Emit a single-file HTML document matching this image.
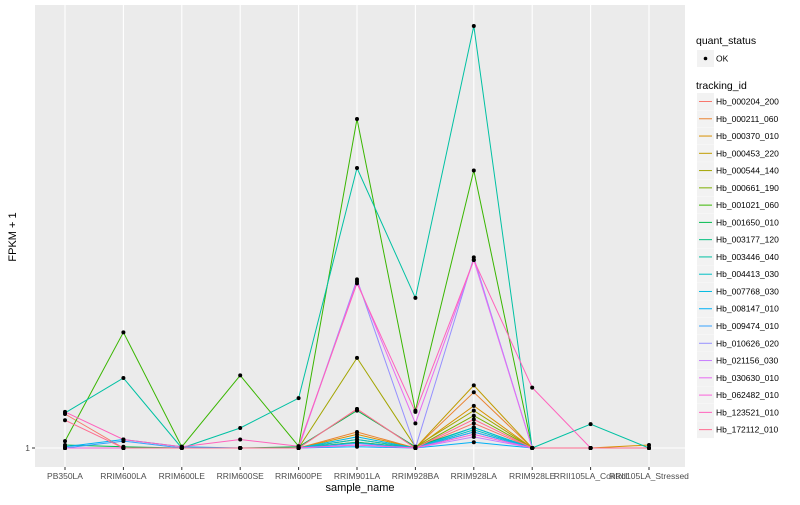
<!DOCTYPE html>
<html><head><meta charset="utf-8"><style>
body{margin:0;background:#fff;font-family:"Liberation Sans",sans-serif}
svg text{font-family:"Liberation Sans",sans-serif}
</style></head><body>
<svg id="chart" width="800" height="500" xmlns="http://www.w3.org/2000/svg">
<rect x="35" y="5" width="650" height="462" fill="#EBEBEB"/>
<g id="grid"></g>
<g id="lines"></g>
<g id="points"></g>
<g id="xaxis"></g>
<g id="yaxis"></g>
<text x="360" y="491" font-size="11" text-anchor="middle">sample_name</text>
<text transform="translate(16,237) rotate(-90)" font-size="11" text-anchor="middle">FPKM + 1</text>
<g id="legend"></g>
</svg>
<script>
const categories=["PB350LA","RRIM600LA","RRIM600LE","RRIM600SE","RRIM600PE","RRIM901LA","RRIM928BA","RRIM928LA","RRIM928LE","RRII105LA_Control","RRII105LA_Stressed"];
const seriesNames=["Hb_000204_200","Hb_000211_060","Hb_000370_010","Hb_000453_220","Hb_000544_140","Hb_000661_190","Hb_001021_060","Hb_001650_010","Hb_003177_120","Hb_003446_040","Hb_004413_030","Hb_007768_030","Hb_008147_010","Hb_009474_010","Hb_010626_020","Hb_021156_030","Hb_030630_010","Hb_062482_010","Hb_123521_010","Hb_172112_010"];
const seriesColors=["#F8766D","#EA8331","#D89000","#C09B00","#A3A500","#7CAE00","#39B600","#00BB4E","#00BF7D","#00C1A3","#00BFC4","#00BAE0","#00B0F6","#35A2FF","#9590FF","#C77CFF","#E76BF3","#FA62DB","#FF62BC","#FF6C91"];
const s01=[1.75,1,1,1,1,1.9,1,1.5,1,1,1];
const s02=[1,1,1,1,1,1.3,1,2.5,1,1,1];
const s03=[1,1,1,1,1,1.25,1,2.0,1,1,1.05];
const s04=[1,1,1,1,1,1.15,1,2.8,1,1,1];
const s05=[1,1,1,1,1,4.4,1.02,1.85,1,1,1];
const s06=[1,1,1,1,1,1.1,1,1.7,1,1,1];
const s07=[1.12,6.7,1.02,3.3,1.03,224,1.85,96,1,1,1];
const s08=[1.05,1.02,1,1,1.02,1.85,1.02,1.4,1,1,1];
const s09=[1,1,1,1,1,1.1,1,1.3,1,1,1];
const s10=[1.78,3.16,1,1.39,2.27,100,11.8,1033,1,1.48,1];
const s11=[1,1,1,1,1,1.15,1,1.35,1,1,1];
const s12=[1,1,1,1,1,1.2,1,1.4,1,1,1];
const s13=[1.02,1.15,1.02,1,1,1.02,1,1.1,1,1,1];
const s14=[1,1.12,1,1,1,1.08,1,1.3,1,1,1];
const s15=[1,1,1,1,1,16,1,23,1,1,1];
const s16=[1,1,1,1,1,1.05,1,1.2,1,1,1];
const s17=[1,1,1,1,1,15.5,1.5,22,1,1,1];
const s18=[1,1,1,1,1,1.05,1,1.25,1,1,1];
const s19=[1.81,1.15,1.02,1.15,1.03,15,1.81,22,2.7,1,1];
const s20=[1.58,1,1,1,1,1.9,1,1.6,1,1,1];
const seriesValues=[s01,s02,s03,s04,s05,s06,s07,s08,s09,s10,s11,s12,s13,s14,s15,s16,s17,s18,s19,s20];
const yTicks=[1];
const yTickLabels=["1"];

const NS="http://www.w3.org/2000/svg";
function mk(tag,attrs,parent){const e=document.createElementNS(NS,tag);for(const k in attrs)e.setAttribute(k,attrs[k]);parent.appendChild(e);return e;}
function xScale(i){return 65+i*(649-65)/(categories.length-1);}
function yScale(v){return 448-140*Math.log10(v);}

const grid=document.getElementById('grid');
categories.forEach((c,i)=>{
  const l=mk('line',{x1:xScale(i),x2:xScale(i),y1:5,y2:467,stroke:'#fff','stroke-width':1.1},grid);
  
  
});
yTicks.forEach(t=>{
  const l=mk('line',{x1:35,x2:685,y1:yScale(t),y2:yScale(t),stroke:'#fff','stroke-width':1.1},grid);
  
  
});

const xa=document.getElementById('xaxis');
categories.forEach((c,i)=>{
  const tk=mk('line',{x1:xScale(i),x2:xScale(i),y1:467,y2:470,stroke:'#333'},xa);
  
  
  const t=mk('text',{x:xScale(i),y:479,'font-size':8.5,fill:'#4d4d4d','text-anchor':'middle'},xa);
  t.textContent=c;
  
  
});
const ya=document.getElementById('yaxis');
yTicks.forEach((v,i)=>{
  const tk=mk('line',{x1:32,x2:35,y1:yScale(v),y2:yScale(v),stroke:'#333'},ya);
  
  
  const t=mk('text',{x:30,y:yScale(v)+3,'font-size':8.5,fill:'#4d4d4d','text-anchor':'end'},ya);
  t.textContent=yTickLabels[i];
  
  
});

const lg=document.getElementById('lines'), pg=document.getElementById('points');
seriesValues.forEach((vals,s)=>{
  const d=vals.map((v,i)=>(i?'L':'M')+xScale(i).toFixed(1)+','+yScale(v).toFixed(1)).join('');
  const p=mk('path',{d:d,fill:'none',stroke:seriesColors[s],'stroke-width':1},lg);
  
  
});
seriesValues.forEach((vals,s)=>{
  vals.forEach((v,i)=>{
    const c=mk('circle',{cx:xScale(i),cy:yScale(v),r:2,fill:'#000'},pg);
    
    
  });
});

const lgd=document.getElementById('legend');
let t=mk('text',{x:696,y:44,'font-size':10.5},lgd);t.textContent='quant_status';


let r=mk('rect',{x:697,y:50,width:17,height:17,fill:'#F2F2F2'},lgd);


let c=mk('circle',{cx:705.5,cy:58.5,r:1.8,fill:'#000'},lgd);


t=mk('text',{x:716,y:61.5,'font-size':8.5},lgd);t.textContent='OK';


t=mk('text',{x:696,y:89,'font-size':10.5},lgd);t.textContent='tracking_id';


seriesNames.forEach((n,i)=>{
  const y0=93+i*17.27;
  const g=mk('g',{},lgd);
  
  
  mk('rect',{x:697,y:y0,width:17,height:17,fill:'#F2F2F2'},g);
  mk('line',{x1:699,x2:712,y1:y0+8.5,y2:y0+8.5,stroke:seriesColors[i],'stroke-width':1},g);
  const tt=mk('text',{x:716,y:y0+11.5,'font-size':8.5},g);
  tt.textContent=n;
});
</script>
</body></html>
